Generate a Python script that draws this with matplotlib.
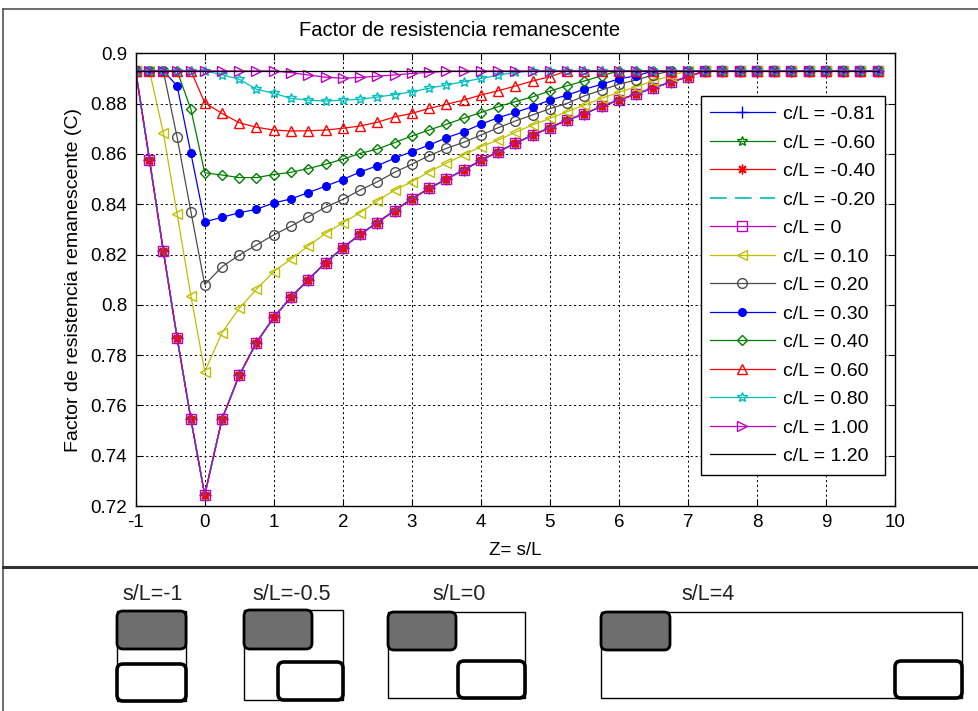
import matplotlib.pyplot as plt
from matplotlib.patches import FancyBboxPatch, Rectangle
from matplotlib.ticker import FuncFormatter

plt.rcParams['font.family'] = ['Liberation Sans', 'DejaVu Sans']
plt.rcParams['axes.unicode_minus'] = False

# s/L positions of the computed points
x_sl = [-1.0, -0.8, -0.6, -0.4, -0.2, 0.0,
        0.25, 0.5, 0.75, 1.0, 1.25, 1.5, 1.75, 2.0, 2.25, 2.5,
        2.75, 3.0, 3.25, 3.5, 3.75, 4.0, 4.25, 4.5, 4.75, 5.0,
        5.25, 5.5, 5.75, 6.0, 6.25, 6.5, 6.75, 7.0, 7.25,
        7.5, 7.75, 8.0, 8.25, 8.5, 8.75, 9.0, 9.25, 9.5, 9.75]

# c/L <= 0 : all five curves coincide
c_neg = [0.893, 0.8576, 0.8215, 0.7869, 0.7545, 0.7244,
         0.7545, 0.772, 0.785, 0.795, 0.803, 0.810, 0.8167, 0.8227, 0.828, 0.8327,
         0.8375, 0.8421, 0.8463, 0.850, 0.8536, 0.8574, 0.8609, 0.8642, 0.8675, 0.8704,
         0.8735, 0.8759, 0.879, 0.8814, 0.8838, 0.8863, 0.8885, 0.8907, 0.893,
         0.893, 0.893, 0.893, 0.893, 0.893, 0.893, 0.893, 0.893, 0.893, 0.893]
c_010 = [0.893, 0.893, 0.8684, 0.8361, 0.8036, 0.7734,
         0.7889, 0.7986, 0.8062, 0.8132, 0.8182, 0.8234, 0.8284, 0.8326, 0.8366, 0.8413,
         0.8456, 0.8489, 0.8529, 0.8563, 0.8596, 0.8629, 0.8655, 0.8686, 0.8715, 0.8741,
         0.8768, 0.8794, 0.8821, 0.8845, 0.8867, 0.889, 0.8911, 0.893, 0.893,
         0.893, 0.893, 0.893, 0.893, 0.893, 0.893, 0.893, 0.893, 0.893, 0.893]
c_020 = [0.893, 0.893, 0.893, 0.8666, 0.837, 0.808,
         0.8151, 0.8198, 0.8238, 0.8278, 0.8313, 0.835, 0.8388, 0.8419, 0.8456, 0.8489,
         0.8527, 0.8559, 0.8593, 0.8622, 0.8646, 0.8675, 0.8704, 0.8731, 0.8755, 0.878,
         0.8801, 0.8831, 0.8854, 0.8877, 0.8894, 0.8914, 0.893, 0.893, 0.893,
         0.893, 0.893, 0.893, 0.893, 0.893, 0.893, 0.893, 0.893, 0.893, 0.893]
c_030 = [0.893, 0.893, 0.893, 0.8871, 0.8602, 0.833,
         0.8348, 0.8366, 0.838, 0.8405, 0.8421, 0.8446, 0.8472, 0.8498, 0.8528, 0.8553,
         0.8583, 0.8609, 0.8635, 0.8664, 0.8688, 0.8718, 0.8744, 0.8765, 0.8788, 0.8814,
         0.8834, 0.8857, 0.8877, 0.8898, 0.8911, 0.893, 0.893, 0.893, 0.893,
         0.893, 0.893, 0.893, 0.893, 0.893, 0.893, 0.893, 0.893, 0.893, 0.893]
c_040 = [0.893, 0.893, 0.893, 0.893, 0.8777, 0.8525,
         0.8516, 0.8506, 0.8506, 0.8518, 0.8527, 0.8542, 0.8559, 0.8579, 0.8602, 0.8619,
         0.8645, 0.8671, 0.8695, 0.8718, 0.8742, 0.8764, 0.8788, 0.8808, 0.8827, 0.885,
         0.8871, 0.889, 0.8911, 0.893, 0.893, 0.893, 0.893, 0.893, 0.893,
         0.893, 0.893, 0.893, 0.893, 0.893, 0.893, 0.893, 0.893, 0.893, 0.893]
c_060 = [0.893, 0.893, 0.893, 0.893, 0.893, 0.8804,
         0.8761, 0.8724, 0.8706, 0.8695, 0.8691, 0.8692, 0.8695, 0.8702, 0.8711, 0.8726,
         0.8747, 0.8761, 0.8781, 0.8797, 0.8814, 0.8834, 0.8851, 0.887, 0.889, 0.8907,
         0.893, 0.893, 0.893, 0.893, 0.893, 0.893, 0.893, 0.893, 0.893,
         0.893, 0.893, 0.893, 0.893, 0.893, 0.893, 0.893, 0.893, 0.893, 0.893]
c_080 = [0.893, 0.893, 0.893, 0.893, 0.893, 0.893,
         0.8915, 0.8897, 0.8857, 0.8841, 0.8821, 0.8814, 0.881, 0.8814, 0.8817, 0.8826,
         0.8836, 0.8847, 0.8861, 0.8874, 0.8887, 0.890, 0.8913, 0.8924, 0.893, 0.893,
         0.893, 0.893, 0.893, 0.893, 0.893, 0.893, 0.893, 0.893, 0.893,
         0.893, 0.893, 0.893, 0.893, 0.893, 0.893, 0.893, 0.893, 0.893, 0.893]
c_100 = [0.893, 0.893, 0.893, 0.893, 0.893, 0.893,
         0.893, 0.893, 0.893, 0.893, 0.8923, 0.8914, 0.8905, 0.8901, 0.8904, 0.8909,
         0.8914, 0.892, 0.8924, 0.8929, 0.893, 0.893, 0.893, 0.893, 0.893, 0.893,
         0.893, 0.893, 0.893, 0.893, 0.893, 0.893, 0.893, 0.893, 0.893,
         0.893, 0.893, 0.893, 0.893, 0.893, 0.893, 0.893, 0.893, 0.893, 0.893]
c_120 = [0.893, 0.893, 0.893, 0.893, 0.893, 0.893,
         0.893, 0.893, 0.893, 0.893, 0.893, 0.893, 0.893, 0.893, 0.893, 0.893,
         0.893, 0.893, 0.893, 0.893, 0.893, 0.893, 0.893, 0.893, 0.893, 0.893,
         0.893, 0.893, 0.893, 0.893, 0.893, 0.893, 0.893, 0.893, 0.893,
         0.893, 0.893, 0.893, 0.893, 0.893, 0.893, 0.893, 0.893, 0.893, 0.893]

labels = ['c/L = -0.81', 'c/L = -0.60', 'c/L = -0.40', 'c/L = -0.20', 'c/L = 0',
          'c/L = 0.10', 'c/L = 0.20', 'c/L = 0.30', 'c/L = 0.40', 'c/L = 0.60',
          'c/L = 0.80', 'c/L = 1.00', 'c/L = 1.20']
series = [c_neg, c_neg, c_neg, c_neg, c_neg, c_010, c_020, c_030,
          c_040, c_060, c_080, c_100, c_120]

yticks = [0.72, 0.74, 0.76, 0.78, 0.8, 0.82, 0.84, 0.86, 0.88, 0.9]
xticks = [-1, 0, 1, 2, 3, 4, 5, 6, 7, 8, 9, 10]

# matlab-like colours
B, G, R = (0, 0, 1), (0, 0.5, 0), (1, 0, 0)
C, M, Y, K = (0, 0.75, 0.75), (0.75, 0, 0.75), (0.75, 0.75, 0), (0.3, 0.3, 0.3)
styles = [
    dict(color=B, marker='+', ms=8),
    dict(color=G, marker='*', ms=7, mfc='none'),
    dict(color=R, marker=(8, 2, 0), ms=7),
    dict(color=C, ls=(0, (10, 5)), lw=1.2),
    dict(color=M, marker='s', ms=7, mfc='none'),
    dict(color=Y, marker='<', ms=7, mfc='none'),
    dict(color=K, marker='o', ms=7, mfc='none'),
    dict(color=B, marker='o', ms=5.5),
    dict(color=G, marker='D', ms=5.5, mfc='none'),
    dict(color=R, marker='^', ms=7, mfc='none'),
    dict(color=C, marker='*', ms=7.5, mfc='none'),
    dict(color=M, marker='>', ms=7, mfc='none'),
    dict(color='k'),
]

fig = plt.figure(figsize=(9.79, 7.11), dpi=100)

# background layer in pixel units: frame + sketches under the chart
bg = fig.add_axes([0, 0, 1, 1], zorder=0)
bg.set_xlim(0, 979)
bg.set_ylim(711, 0)
bg.axis('off')
bg.plot([3, 979], [9, 9], color='#555555', lw=1.2)
bg.plot([3, 3], [9, 711], color='#555555', lw=1.2)
bg.plot([3, 979], [567, 567], color='#333333', lw=2.2)
bg.text(460, 30, 'Factor de resistencia remanescente', ha='center', va='center',
        fontsize=14.5)

sketches = [
    ('s/L=-1', 153, (117, 611, 186, 701), (117, 611, 186, 649), (117, 664, 186, 701)),
    ('s/L=-0.5', 292, (244, 610, 343, 700), (244, 610, 312, 649), (278, 662, 343, 700)),
    ('s/L=0', 459, (388, 612, 525, 698), (388, 612, 456, 650), (458, 661, 525, 698)),
    ('s/L=4', 708, (601, 612, 962, 698), (601, 612, 670, 650), (895, 661, 962, 698)),
]
for name, xc, outer, grey, white in sketches:
    bg.text(xc, 594, name, ha='center', va='center', fontsize=15.5, color='#222222')
    bg.add_patch(Rectangle((outer[0], outer[1]), outer[2] - outer[0], outer[3] - outer[1],
                           fc='white', ec='k', lw=1.0))
    bg.add_patch(FancyBboxPatch((grey[0], grey[1]), grey[2] - grey[0], grey[3] - grey[1],
                                boxstyle='round,pad=0,rounding_size=6',
                                fc='#6e6e6e', ec='k', lw=2.0))
    bg.add_patch(FancyBboxPatch((white[0], white[1]), white[2] - white[0], white[3] - white[1],
                                boxstyle='round,pad=0,rounding_size=6',
                                fc='white', ec='k', lw=2.6))

ax = fig.add_axes([0.1386, 0.2883, 0.7756, 0.6367], zorder=1)
for vals, lab, st in zip(series, labels, styles):
    kw = dict(lw=0.9)
    kw.update(st)
    ax.plot(x_sl, vals, label=lab, **kw)

ax.set_xlim(-1, 10)
ax.set_ylim(0.72, 0.9)
ax.set_xticks(xticks)
ax.set_yticks(yticks)
ax.yaxis.set_major_formatter(FuncFormatter(lambda v, p: f'{v:g}'))
ax.tick_params(direction='in', length=5, top=True, right=True, labelsize=13.5, pad=6)
ax.grid(True, color='k', linestyle=(0, (2.2, 2.8)), linewidth=0.7)
for sp in ax.spines.values():
    sp.set_linewidth(1.0)

ax.set_xlabel('Z= s/L', fontsize=13.5, labelpad=8)
ax.set_ylabel('Factor de resistencia remanescente (C)', fontsize=14, labelpad=6)

leg = ax.legend(loc='upper right', bbox_to_anchor=(0.987, 0.906), fontsize=14,
                fancybox=False, edgecolor='k', framealpha=1, handlelength=3.3,
                labelspacing=0.56, borderpad=0.5, handletextpad=0.45, borderaxespad=0)
leg.get_frame().set_linewidth(1.0)

fig.savefig('out.png', dpi=100)
